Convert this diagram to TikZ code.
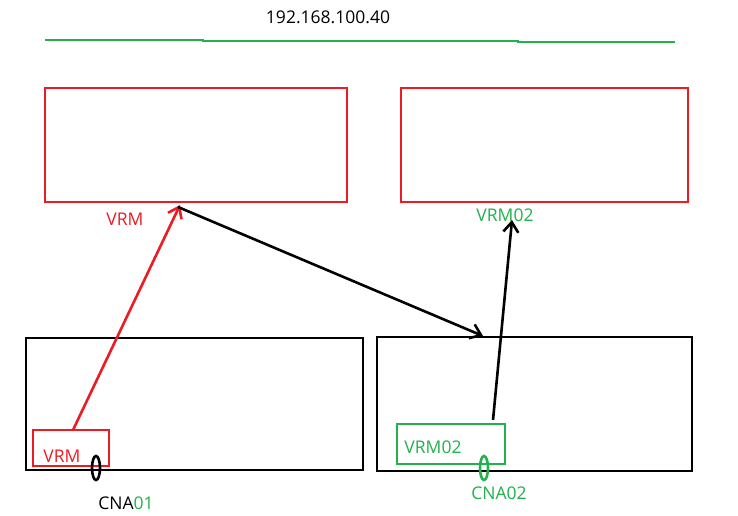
\documentclass[tikz,border=0pt]{standalone}
\usepackage{fontspec}
\setmainfont{Open Sans}
\usetikzlibrary{arrows.meta,shapes.geometric,calc}
\definecolor{pred}{HTML}{ED1C24}
\definecolor{pgreen}{HTML}{22B14C}
\begin{document}
\begin{tikzpicture}[x=1pt,y=-1pt,
  box/.style={draw,line width=2.6pt,minimum width=#1,inner sep=0pt,outer sep=0pt},
  lbl/.style={font=\fontsize{17.5}{19}\selectfont,inner sep=0pt},
  conn/.style={line width=2.6pt,-{Straight Barb[length=10pt,width=15pt,line width=2.6pt]}},
  port/.style={draw,ellipse,line width=2.6pt,minimum width=8pt,minimum height=24pt,inner sep=0pt}]
\useasboundingbox[fill=white] (0,0) rectangle (738,515);
% title and network line
\node[lbl] (ip) at (328,17) {192.168.100.40};
\draw[pgreen,line width=2.6pt] (45,40) -- (203,40) -- (203,41) -- (518,41) -- (518,42) -- (675,42);
% top boxes
\node[box=302pt,minimum height=114pt,pred] (r1) at (196,145) {};
\node[box=287pt,minimum height=114pt,pred] (r2) at (544.5,145) {};
\node[lbl,text=pred] (t1) at (125,219) {VRM};
\node[lbl,text=pgreen] (t2) at (505,215) {VRM02};
% bottom boxes
\node[box=337pt,minimum height=132pt] (b1) at (194.5,404) {};
\node[box=315pt,minimum height=134pt] (b2) at (534.5,404) {};
\node[box=76pt,minimum height=36pt,pred] (v1) at (71,448) {};
\node[lbl,text=pred] (v1t) at (62,456) {VRM};
\node[box=108pt,minimum height=40pt,pgreen] (v2) at (451,444) {};
\node[lbl,text=pgreen] (v2t) at (433,447) {VRM02};
\node[port] (e1) at (96,468) {};
\node[port,pgreen] (e2) at (484,468) {};
\node[lbl] (c1) at (126,503) {CNA\textcolor{pgreen}{01}};
\node[lbl,text=pgreen] (c2) at (499,493) {CNA02};
% connectors
\coordinate (a1s) at ($(v1.north west)+(40,0)$);
\coordinate (a1e) at ($(r1.south west)+(135,3)$);
\draw[conn,pred] (a1s) -- (a1e);
\coordinate (a2s) at ($(r1.south west)+(133,5)$);
\coordinate (a2e) at ($(b2.north west)+(106,-1)$);
\draw[conn] (a2s) -- (a2e);
\coordinate (a3s) at ($(v2.north west)+(96,-4)$);
\coordinate (a3e) at (512,220);
\draw[conn] (a3s) -- (a3e);
\end{tikzpicture}
\end{document}
